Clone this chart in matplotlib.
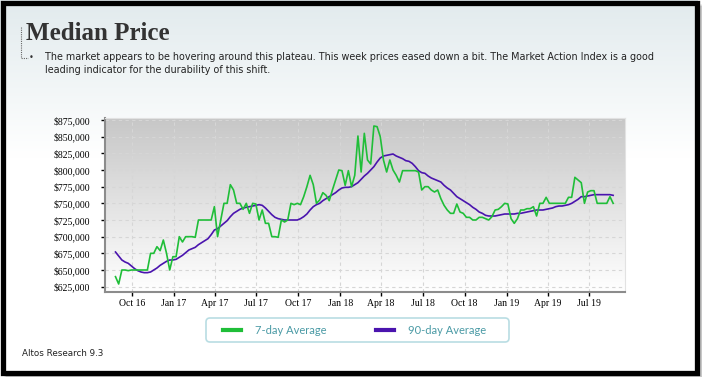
import numpy as np
import pandas as pd
import matplotlib
matplotlib.use("Agg")
import matplotlib.pyplot as plt
import matplotlib.dates as mdates
from matplotlib.patches import FancyBboxPatch, Rectangle
from matplotlib.lines import Line2D
from matplotlib.ticker import FuncFormatter

# weekly median price, thousands of dollars
weeks = pd.date_range("2016-08-26", periods=157, freq="7D")
avg_7day = [
    640, 629, 650, 650, 649, 650, 650, 650, 650, 650, 650, 675, 675, 685, 679, 695,
    675, 650, 670, 670, 700, 692, 700, 700, 700, 699, 725, 725, 725, 725, 725, 745,
    700, 725, 750, 750, 778, 770, 750, 750, 741, 750, 735, 750, 749, 725, 740, 720,
    720, 700, 700, 699, 725, 722, 725, 750, 748, 750, 748, 760, 775, 792, 778, 750,
    755, 766, 762, 754, 770, 785, 800, 799, 777, 799, 775, 792, 851, 797, 855, 815,
    809, 866, 865, 850, 815, 797, 815, 800, 792, 782, 799, 799, 799, 799, 799, 797,
    770, 775, 775, 770, 767, 770, 757, 747, 740, 735, 735, 749, 737, 735, 729, 729,
    725, 725, 729, 729, 727, 725, 730, 740, 741, 745, 750, 749, 727, 720, 727, 740,
    740, 742, 742, 745, 731, 750, 750, 759, 750, 750, 750, 750, 750, 750, 759, 759,
    789, 785, 781, 750, 767, 769, 769, 750, 750, 750, 750, 760, 750,
]
avg_90day = [
    677, 671, 665, 662, 660, 656, 652, 649, 647, 646, 646, 647, 650, 653, 657, 660,
    663, 665, 665, 666, 669, 672, 676, 680, 682, 684, 688, 691, 694, 697, 703, 710,
    712, 716, 720, 724, 730, 735, 738, 741, 743, 744, 745, 746, 747, 748, 747, 743,
    738, 733, 729, 727, 726, 725, 725, 725, 725, 725, 727, 730, 734, 740, 745, 748,
    750, 754, 757, 760, 763, 766, 770, 773, 774, 774, 775, 778, 781, 786, 791, 795,
    800, 805, 812, 818, 821, 822, 823, 824, 821, 819, 817, 814, 813, 810, 805, 799,
    796, 795, 791, 788, 786, 784, 782, 777, 773, 770, 765, 760, 757, 754, 751, 748,
    744, 741, 737, 735, 732, 731, 731, 731, 732, 733, 734, 734, 734, 734, 735, 735,
    736, 737, 738, 739, 740, 740, 740, 741, 742, 743, 745, 746, 746, 747, 748, 750,
    753, 756, 760, 760, 761, 762, 763, 763, 763, 763, 763, 763, 762,
]
y_ticks = [625, 650, 675, 700, 725, 750, 775, 800, 825, 850, 875]

GREEN = "#1fbe38"
PURPLE = "#4a14ae"
W, H = 705, 383

fig = plt.figure(figsize=(W / 100, H / 100), dpi=100, facecolor="white")

# page layer in pixel coordinates (y downwards)
bg = fig.add_axes([0, 0, 1, 1], zorder=-5)
bg.set_axis_off()

# soft shadow of the frame
for k, a in enumerate([0.12, 0.18, 0.25]):
    bg.add_patch(Rectangle((4 + k, 4 + k), 698 - k, 373 - k,
                           facecolor="#888888", edgecolor="none", alpha=a))
# gradient inside the frame
g = np.clip(np.linspace(0, 1, 256) / 0.42, 0, 1).reshape(-1, 1, 1)
top = np.array([0.885, 0.92, 0.93])
img = top + (1 - top) * g
bg.imshow(img, extent=[0, 698, 373, 0], aspect="auto", zorder=1)
bg.add_patch(Rectangle((2.5, 2.5), 694, 370, facecolor="none",
                       edgecolor="black", linewidth=3.8, zorder=5))
bg.set_xlim(0, W)
bg.set_ylim(H, 0)

# title and note
bg.text(26, 39.5, "Median Price", family="Liberation Serif", weight="bold",
        fontsize=18, color="#333333", va="baseline", ha="left", zorder=6)
bg.plot([21, 21, 28], [27, 58, 58], color="#666666", lw=0.8, ls=(0, (1, 1)), zorder=6)
bg.text(31, 58, "\u2022", fontsize=6, color="#333333", va="center", ha="center", zorder=6)
note = ("The market appears to be hovering around this plateau. This week prices eased down a bit. "
        "The Market Action Index is a good\nleading indicator for the durability of this shift.")
bg.text(45, 52, note, family="DejaVu Sans", fontsize=6.9, color="#222222",
        va="top", ha="left", linespacing=1.4, zorder=6)
bg.text(22, 354, "Altos Research 9.3", family="DejaVu Sans", fontsize=6.3,
        color="#222222", va="center", ha="left", zorder=6)

# legend box
bg.add_patch(FancyBboxPatch((206, 318), 303, 24,
                            boxstyle="round,pad=0,rounding_size=4",
                            facecolor="white", edgecolor="#b9dde3", linewidth=1.2, zorder=6))
for (lx, col, label) in [(223, GREEN, "7-day Average"), (376, PURPLE, "90-day Average")]:
    bg.add_line(Line2D([lx, lx + 18], [330, 330], color=col, lw=3, zorder=7))
    bg.text(lx + 32, 330, label, family="Lato", fontsize=8, color="#4a9aa5",
            va="center", ha="left", zorder=7)


def fx(px):
    return px / W


def fy(py):
    return 1 - py / H


# chart
x0, x1, y0, y1 = 105, 625, 118, 292
ax = fig.add_axes([fx(x0), fy(y1), fx(x1 - x0), fy(y0) - fy(y1)])
xmin = mdates.date2num(pd.Timestamp("2016-08-03"))
xmax = mdates.date2num(pd.Timestamp("2019-09-18"))
ymin, ymax = 617, 878
grad = np.linspace(0.78, 1.0, 256).reshape(-1, 1, 1) * np.ones((1, 1, 3))
ax.imshow(grad, extent=[xmin, xmax, ymin, ymax], aspect="auto", origin="upper", zorder=0)

ax.plot(weeks, avg_90day, color=PURPLE, lw=1.2, zorder=3)
ax.plot(weeks, avg_7day, color=GREEN, lw=1.2, zorder=4)

ax.set_xlim(xmin, xmax)
ax.set_ylim(ymin, ymax)
ax.set_yticks(y_ticks)
ax.yaxis.set_major_formatter(FuncFormatter(lambda v, p: f"${int(v):,},000"))
ax.xaxis.set_major_locator(mdates.MonthLocator(bymonth=[1, 4, 7, 10]))
ax.xaxis.set_major_formatter(mdates.DateFormatter("%b %y"))
ax.grid(True, color="#d6d6d6", lw=0.8, ls=(0, (3, 3)), zorder=1)
ax.set_axisbelow(True)
for lab in ax.get_xticklabels() + ax.get_yticklabels():
    lab.set_family("Liberation Serif")
    lab.set_fontsize(7)
ax.tick_params(axis="y", length=3, width=1, pad=8, color="black")
ax.tick_params(axis="x", length=3, width=1, pad=2, color="black")
for s in ["top", "right"]:
    ax.spines[s].set_color("#e2e2e2")
    ax.spines[s].set_linewidth(0.8)
for s in ["left", "bottom"]:
    ax.spines[s].set_color("#8c8c8c")
    ax.spines[s].set_linewidth(1.5)

fig.savefig("out.png", dpi=100)
